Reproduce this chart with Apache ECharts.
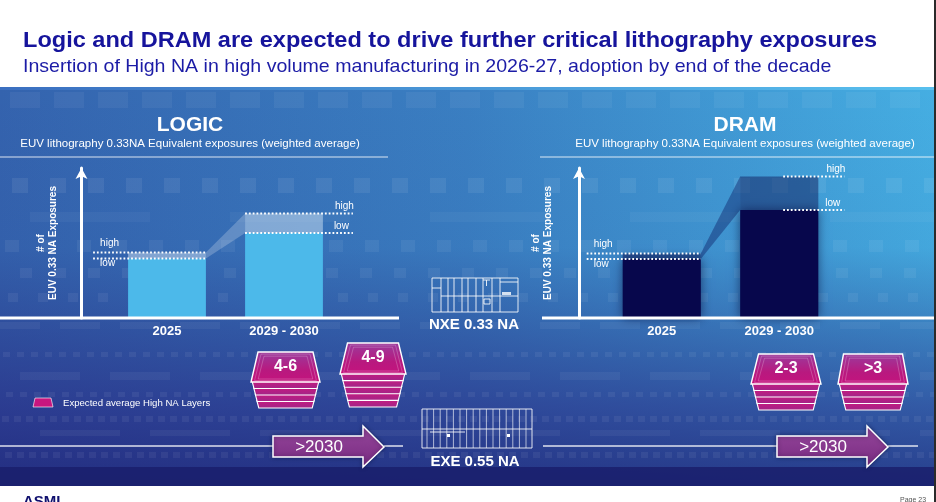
<!DOCTYPE html>
<html><head><meta charset="utf-8">
<script src="https://cdn.jsdelivr.net/npm/echarts@6/dist/echarts.min.js"></script>
<style>html,body{margin:0;padding:0;background:#fff}#c{width:936px;height:502px}</style>
</head><body><div id="c"></div>
<script>
// ---------- data ----------
const categories = ['2025', '2029 - 2030'];
const logicLow = [11.9, 17.0];
const logicHigh = [13.1, 20.9];
const dramLow = [11.8, 21.6];
const dramHigh = [12.9, 28.3];
const yMax = 30;
const logicHighNA = ['4-6', '4-9'];
const dramHighNA = ['2-3', '>3'];
const timelineLabels = ['>2030', '>2030'];
const toolLabels = ['NXE 0.33 NA', 'EXE 0.55 NA'];
const panelTitles = ['LOGIC', 'DRAM'];
const panelSubtitle = 'EUV lithography 0.33NA Equivalent exposures (weighted average)';
const yAxisName = '# of\nEUV 0.33 NA Exposures';
const legendText = 'Expected average High NA Layers';
const mainTitle = 'Logic and DRAM are expected to drive further critical lithography exposures';
const mainSubtitle = 'Insertion of High NA in high volume manufacturing in 2026-27, adoption by end of the decade';

// ---------- styles ----------
const FONT = '"Liberation Sans", Arial, Helvetica, sans-serif';
const styles = [
  { bar: '#4cb9ea', band: 'rgba(225,240,250,0.45)', wedge: 'rgba(255,255,255,0.22)',
    shadowBlur: 0, shadowColor: 'rgba(0,0,0,0)', lines: [[-35, 0], [0, 30]] },
  { bar: '#07074c', band: 'rgba(10,16,80,0.45)', wedge: 'rgba(12,28,100,0.42)',
    shadowBlur: 10, shadowColor: 'rgba(0,0,40,0.55)', lines: [[-36, 0], [43, 26]] }
];

function makeRender(st) {
  return function (params, api) {
    const i = api.value(0), lo = api.value(1), hi = api.value(2);
    const base = api.coord([i, 0]), pl = api.coord([i, lo]), ph = api.coord([i, hi]);
    const band = api.size([1, 0])[0];
    const w = band * 0.665;
    const x0 = base[0] - w / 2, x1 = base[0] + w / 2;
    const ch = [];
    if (i === 0) {
      const nlo = api.value(1, 1), nhi = api.value(2, 1);
      const nl = api.coord([1, nlo]), nh = api.coord([1, nhi]);
      const nx0 = nl[0] - w / 2;
      ch.push({ type: 'polygon', shape: { points: [[x1, ph[1]], [nx0, nh[1]], [nx0, nl[1]], [x1, pl[1]]] },
        style: { fill: st.wedge } });
    }
    ch.push({ type: 'rect', shape: { x: x0, y: pl[1], width: w, height: base[1] - pl[1] },
      style: { fill: st.bar, shadowBlur: st.shadowBlur, shadowColor: st.shadowColor } });
    ch.push({ type: 'rect', shape: { x: x0, y: ph[1], width: w, height: pl[1] - ph[1] },
      style: { fill: st.band } });
    const ls = x0 + st.lines[i][0], le = x1 + st.lines[i][1];
    const dash = { stroke: '#fff', lineWidth: 1.8, lineDash: [1.8, 2.0] };
    ch.push({ type: 'line', shape: { x1: ls, y1: ph[1], x2: le, y2: ph[1] }, style: dash });
    ch.push({ type: 'line', shape: { x1: ls, y1: pl[1], x2: le, y2: pl[1] }, style: dash });
    const tf = '10px ' + FONT;
    if (i === 0) {
      ch.push({ type: 'text', style: { text: 'high', x: ls + 7, y: ph[1] - 9, fill: '#fff', font: tf, align: 'left', verticalAlign: 'middle' } });
      ch.push({ type: 'text', style: { text: 'low', x: ls + 7, y: pl[1] + 5, fill: '#fff', font: tf, align: 'left', verticalAlign: 'middle' } });
    } else {
      ch.push({ type: 'text', style: { text: 'high', x: le + 1, y: ph[1] - 7.5, fill: '#fff', font: tf, align: 'right', verticalAlign: 'middle' } });
      ch.push({ type: 'text', style: { text: 'low', x: le - 4, y: pl[1] - 6.5, fill: '#fff', font: tf, align: 'right', verticalAlign: 'middle' } });
    }
    return { type: 'group', children: ch };
  };
}

function seriesData(lo, hi) { return categories.map((c, k) => [k, lo[k], hi[k]]); }

// ---------- decorations ----------
const g = [];
g.push({ type: 'rect', z: -20, shape: { x: 0, y: 88, width: 934, height: 398 },
  style: { fill: new echarts.graphic.LinearGradient(0, 0, 1, 0, [
    { offset: 0, color: '#3463ae' }, { offset: 0.5, color: '#3a7fc2' }, { offset: 1, color: '#45aee2' }]) } });
g.push({ type: 'rect', z: -19, shape: { x: 0, y: 88, width: 934, height: 398 },
  style: { fill: new echarts.graphic.LinearGradient(0, 0, 0, 1, [
    { offset: 0, color: 'rgba(35,35,120,0)' }, { offset: 0.4, color: 'rgba(35,35,120,0.05)' },
    { offset: 0.8, color: 'rgba(38,34,125,0.6)' }, { offset: 1, color: 'rgba(30,30,115,0.78)' }]) } });
g.push({ type: 'rect', z: -18, shape: { x: 0, y: 467, width: 934, height: 19 },
  style: { fill: 'rgba(26,30,108,0.85)' } });
g.push({ type: 'rect', z: -18, shape: { x: 0, y: 87, width: 934, height: 3 },
  style: { fill: new echarts.graphic.LinearGradient(0, 0, 1, 0, [
    { offset: 0, color: '#3b6fc0' }, { offset: 1, color: '#58c0ee' }]) } });
g.push({ type: 'rect', z: 30, shape: { x: 934, y: 0, width: 2, height: 502 }, style: { fill: '#2b2b2b' } });
const rows = [
  { y: 92, h: 16, w: 30, step: 44, off: 10, a: 0.05 },
  { y: 178, h: 15, w: 16, step: 38, off: 12, a: 0.07 },
  { y: 212, h: 10, w: 120, step: 200, off: 30, a: 0.04 },
  { y: 240, h: 12, w: 14, step: 36, off: 5, a: 0.06 },
  { y: 268, h: 10, w: 12, step: 34, off: 20, a: 0.06 },
  { y: 293, h: 9, w: 10, step: 30, off: 8, a: 0.06 },
  { y: 322, h: 7, w: 40, step: 60, off: 0, a: 0.05 },
  { y: 352, h: 5, w: 7, step: 14, off: 3, a: 0.06 },
  { y: 372, h: 8, w: 60, step: 90, off: 20, a: 0.05 },
  { y: 392, h: 5, w: 7, step: 14, off: 6, a: 0.06 },
  { y: 416, h: 6, w: 7, step: 12, off: 2, a: 0.06 },
  { y: 430, h: 6, w: 80, step: 110, off: 40, a: 0.05 },
  { y: 452, h: 6, w: 7, step: 12, off: 5, a: 0.06 }
];
rows.forEach(r => {
  for (let x = r.off; x < 934; x += r.step) {
    g.push({ type: 'rect', z: -17, silent: true, shape: { x: x, y: r.y, width: Math.min(r.w, 934 - x), height: r.h },
      style: { fill: 'rgba(255,255,255,' + r.a + ')' } });
  }
});
// titles (slightly stretched horizontally like the reference)
g.push({ type: 'text', z: 5, x: 23, y: 41, scaleX: 1.07, style: { text: mainTitle, x: 0, y: 0, fill: '#16149c', font: 'bold 22px ' + FONT, verticalAlign: 'middle' } });
g.push({ type: 'text', z: 5, x: 23, y: 67, scaleX: 1.03, style: { text: mainSubtitle, x: 0, y: 0, fill: '#1c1ca6', font: '19px ' + FONT, verticalAlign: 'middle' } });
[[190, 0, 388], [745, 540, 936]].forEach((p, k) => {
  g.push({ type: 'text', z: 5, style: { text: panelTitles[k], x: p[0], y: 125, fill: '#fff', font: 'bold 21px ' + FONT, align: 'center', verticalAlign: 'middle' } });
  g.push({ type: 'text', z: 5, style: { text: panelSubtitle, x: p[0], y: 144, fill: '#fff', font: '11.5px ' + FONT, align: 'center', verticalAlign: 'middle' } });
  g.push({ type: 'line', z: 5, shape: { x1: p[1], y1: 157, x2: p[2], y2: 157 }, style: { stroke: 'rgba(255,255,255,0.55)', lineWidth: 1.5 } });
});
g.push({ type: 'line', z: 5, shape: { x1: 0, y1: 318, x2: 399, y2: 318 }, style: { stroke: '#fff', lineWidth: 3 } });
g.push({ type: 'line', z: 5, shape: { x1: 542, y1: 318, x2: 934, y2: 318 }, style: { stroke: '#fff', lineWidth: 3 } });
[[0, 273], [384, 403], [543, 777], [888, 918]].forEach(s => {
  g.push({ type: 'line', z: 5, shape: { x1: s[0], y1: 446, x2: s[1], y2: 446 }, style: { stroke: 'rgba(255,255,255,0.85)', lineWidth: 1.5 } });
});
[[273, 363, 384], [777, 867, 888]].forEach((a, k) => {
  g.push({ type: 'polygon', z: 6, shape: { points: [[a[0], 436], [a[1], 436], [a[1], 426], [a[2], 447], [a[1], 467], [a[1], 457], [a[0], 457]] },
    style: { fill: new echarts.graphic.LinearGradient(0, 0, 0, 1, [{ offset: 0, color: '#94479a' }, { offset: 1, color: '#7a2b82' }]),
      stroke: '#fff', lineWidth: 1.5, shadowBlur: 4, shadowColor: 'rgba(0,0,40,0.4)' } });
  g.push({ type: 'text', z: 7, style: { text: timelineLabels[k], x: (a[0] + a[1]) / 2 + 1, y: 447, fill: '#fff', font: '17px ' + FONT, align: 'center', verticalAlign: 'middle' } });
});
function stack(cx, topY, topHw, plateBot, plateHw, layers, layerH, label) {
  for (let k = layers - 1; k >= 0; k--) {
    const ty = plateBot + k * layerH - 1, by = ty + layerH + 1;
    const thw = plateHw - 1 - k * 1.6, bhw = thw - 2;
    g.push({ type: 'polygon', z: 6, shape: { points: [[cx - thw, ty], [cx + thw, ty], [cx + bhw, by], [cx - bhw, by]] },
      style: { fill: new echarts.graphic.LinearGradient(0, 0, 0, 1, [{ offset: 0, color: '#c81a80' }, { offset: 1, color: '#a02588' }]), stroke: '#fff', lineWidth: 1.1 } });
  }
  g.push({ type: 'polygon', z: 6, shape: { points: [[cx - topHw, topY], [cx + topHw, topY], [cx + plateHw, plateBot], [cx - plateHw, plateBot]] },
    style: { fill: new echarts.graphic.LinearGradient(0, 0, 0, 1, [{ offset: 0, color: '#9a3c9e' }, { offset: 0.6, color: '#b8197f' }, { offset: 1, color: '#c5137d' }]),
      stroke: '#fff', lineWidth: 1.4 } });
  [3, 6].forEach(d => {
    g.push({ type: 'polygon', z: 6, silent: true, shape: { points: [[cx - topHw + d, topY + d * 0.7], [cx + topHw - d, topY + d * 0.7], [cx + plateHw - d * 1.2, plateBot - d * 0.5], [cx - plateHw + d * 1.2, plateBot - d * 0.5]] },
      style: { fill: 'none', stroke: 'rgba(255,255,255,0.22)', lineWidth: 1 } });
  });
  g.push({ type: 'text', z: 7, style: { text: label, x: cx, y: topY + (plateBot - topY) * 0.47, fill: '#fff', font: 'bold 16px ' + FONT, align: 'center', verticalAlign: 'middle' } });
}
stack(285.5, 352, 27.5, 382, 34.5, 4, 6.5, logicHighNA[0]);
stack(373, 343, 25.5, 374, 33, 5, 6.6, logicHighNA[1]);
stack(786, 354, 27.5, 384, 35, 4, 6.5, dramHighNA[0]);
stack(873, 354, 29.5, 384, 35, 4, 6.5, dramHighNA[1]);
g.push({ type: 'polygon', z: 6, shape: { points: [[35, 398], [51, 398], [53, 407], [33, 407]] },
  style: { fill: '#c8167f', stroke: 'rgba(255,255,255,0.8)', lineWidth: 0.8 } });
g.push({ type: 'text', z: 6, style: { text: legendText, x: 63, y: 403, fill: '#fff', font: '9.6px ' + FONT, verticalAlign: 'middle' } });
const mstroke = { stroke: 'rgba(255,255,255,0.85)', lineWidth: 1, fill: 'none' };
g.push({ type: 'rect', z: 6, shape: { x: 432, y: 278, width: 86, height: 34 }, style: mstroke });
[441, 448, 454, 462, 468, 476, 483, 492, 500].forEach(x => g.push({ type: 'line', z: 6, shape: { x1: x, y1: 278, x2: x, y2: 312 }, style: mstroke }));
g.push({ type: 'line', z: 6, shape: { x1: 441, y1: 296, x2: 518, y2: 296 }, style: mstroke });
g.push({ type: 'line', z: 6, shape: { x1: 432, y1: 288, x2: 441, y2: 288 }, style: mstroke });
g.push({ type: 'line', z: 6, shape: { x1: 500, y1: 282, x2: 518, y2: 282 }, style: mstroke });
g.push({ type: 'rect', z: 6, shape: { x: 484, y: 299, width: 6, height: 5 }, style: mstroke });
g.push({ type: 'line', z: 6, shape: { x1: 483, y1: 280, x2: 490, y2: 280 }, style: mstroke });
g.push({ type: 'line', z: 6, shape: { x1: 486.5, y1: 280, x2: 486.5, y2: 286 }, style: mstroke });
g.push({ type: 'rect', z: 6, shape: { x: 502, y: 292, width: 9, height: 3 }, style: { fill: 'rgba(255,255,255,0.8)' } });
g.push({ type: 'text', z: 6, style: { text: toolLabels[0], x: 474, y: 325, fill: '#fff', font: 'bold 15px ' + FONT, align: 'center', verticalAlign: 'middle' } });
g.push({ type: 'rect', z: 6, shape: { x: 422, y: 409, width: 110, height: 39 }, style: mstroke });
for (let x = 427; x < 530; x += 6.6) g.push({ type: 'line', z: 6, shape: { x1: x, y1: 409, x2: x, y2: 448 }, style: { stroke: 'rgba(255,255,255,0.7)', lineWidth: 0.9 } });
g.push({ type: 'line', z: 6, shape: { x1: 422, y1: 429, x2: 532, y2: 429 }, style: mstroke });
g.push({ type: 'line', z: 6, shape: { x1: 430, y1: 432, x2: 465, y2: 432 }, style: mstroke });
g.push({ type: 'rect', z: 6, shape: { x: 447, y: 434, width: 3, height: 3 }, style: { fill: '#fff' } });
g.push({ type: 'rect', z: 6, shape: { x: 507, y: 434, width: 3, height: 3 }, style: { fill: '#fff' } });
g.push({ type: 'text', z: 6, style: { text: toolLabels[1], x: 475, y: 462, fill: '#fff', font: 'bold 15px ' + FONT, align: 'center', verticalAlign: 'middle' } });
g.push({ type: 'text', z: 6, style: { text: 'ASML', x: 23, y: 494, fill: '#10106e', font: 'bold 15px ' + FONT, verticalAlign: 'top' } });
g.push({ type: 'text', z: 6, style: { text: 'Page 23', x: 900, y: 497, fill: '#555', font: '7px ' + FONT, verticalAlign: 'top' } });

// ---------- chart ----------
function yAx(grid, offset, gap) {
  return { type: 'value', gridIndex: grid, min: 0, max: yMax, offset: offset,
    axisLine: { show: true, symbol: ['none', 'arrow'], symbolSize: [9, 11], lineStyle: { color: '#fff', width: 3 } },
    axisTick: { show: false }, axisLabel: { show: false }, splitLine: { show: false },
    name: yAxisName, nameLocation: 'middle', nameRotate: 90, nameGap: gap,
    nameTextStyle: { color: '#fff', fontWeight: 'bold', fontSize: 10, lineHeight: 12, fontFamily: FONT } };
}
function xAx(grid) {
  return { type: 'category', gridIndex: grid, data: categories,
    axisLine: { show: false }, axisTick: { show: false }, splitLine: { show: false },
    axisLabel: { color: '#fff', fontWeight: 'bold', fontSize: 13, margin: 7, fontFamily: FONT } };
}
const chart = echarts.init(document.getElementById('c'));
chart.setOption({
  animation: false,
  backgroundColor: '#fff',
  grid: [
    { left: 108.5, top: 168, width: 234, height: 150 },
    { left: 603, top: 168, width: 235, height: 150 }
  ],
  xAxis: [xAx(0), xAx(1)],
  yAxis: [yAx(0, 27, 22), yAx(1, 24, 25)],
  series: [
    { type: 'custom', xAxisIndex: 0, yAxisIndex: 0, renderItem: makeRender(styles[0]), data: seriesData(logicLow, logicHigh), encode: { x: 0, y: [1, 2] }, z: 3 },
    { type: 'custom', xAxisIndex: 1, yAxisIndex: 1, renderItem: makeRender(styles[1]), data: seriesData(dramLow, dramHigh), encode: { x: 0, y: [1, 2] }, z: 3 }
  ],
  graphic: { elements: g }
});
</script></body></html>
